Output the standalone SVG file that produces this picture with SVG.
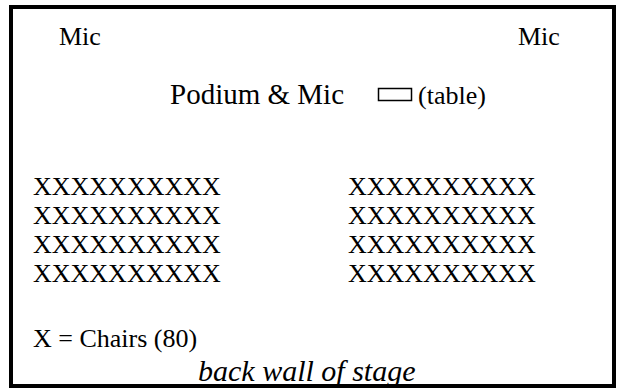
<svg xmlns="http://www.w3.org/2000/svg" width="623" height="392" viewBox="0 0 623 392">
  <style>
    .t { font-family: 'Liberation Serif', 'DejaVu Serif', serif; font-size: 26px; fill: #000; }
    .big { font-size: 29px; }
    .it { font-style: italic; font-size: 30px; }
    .frame { fill: none; stroke: #000; stroke-width: 4; }
    .table { fill: #fff; stroke: #000; stroke-width: 1.5; }
  </style>
  <rect width="623" height="392" fill="#fff"/>
  <g id="mic-left"><text class="t" x="59" y="45">Mic</text></g>
  <g id="mic-right"><text class="t" x="518" y="45">Mic</text></g>
  <g id="podium"><text class="t big" x="170" y="104">Podium &amp; Mic</text></g>
  <g id="table">
    <rect class="table" x="378.5" y="88.5" width="33" height="12"/>
    <text class="t" x="418" y="104">(table)</text>
  </g>
  <g id="chairs-left">
    <text class="t" x="33" y="195">XXXXXXXXXX</text>
    <text class="t" x="33" y="224">XXXXXXXXXX</text>
    <text class="t" x="33" y="253">XXXXXXXXXX</text>
    <text class="t" x="33" y="282">XXXXXXXXXX</text>
  </g>
  <g id="chairs-right">
    <text class="t" x="348" y="195">XXXXXXXXXX</text>
    <text class="t" x="348" y="224">XXXXXXXXXX</text>
    <text class="t" x="348" y="253">XXXXXXXXXX</text>
    <text class="t" x="348" y="282">XXXXXXXXXX</text>
  </g>
  <g id="legend"><text class="t" x="33" y="347">X = Chairs (80)</text></g>
  <g id="back-wall"><text class="t it" x="198" y="381">back wall of stage</text></g>
  <g id="connectors"></g>
  <!-- stage outline, drawn over the text so the bottom line trims descenders -->
  <rect class="frame" x="11" y="7" width="603" height="379"/>
</svg>
